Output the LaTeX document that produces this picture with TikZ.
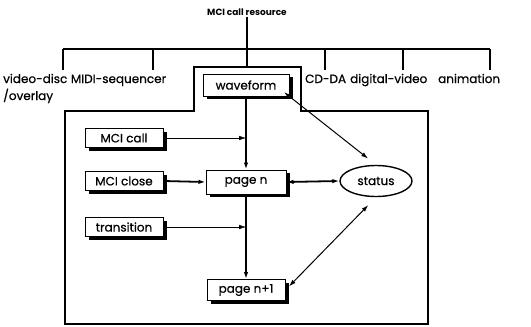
\documentclass[tikz,border=0pt]{standalone}
\usepackage{fontspec}
\setmainfont{Poppins}
\newfontfamily\lblfont{Poppins}[FakeBold=0.6]
\usetikzlibrary{arrows.meta,shadows,shapes.geometric}

\begin{document}
\begin{tikzpicture}[x=1pt,y=-1pt,
  lbl/.style={font=\lblfont\fontsize{12}{14}\selectfont, inner sep=0pt},
  box/.style={draw, line width=1pt, fill=white, minimum width=78pt, minimum height=19pt,
    inner sep=0pt, font=\lblfont\fontsize{12}{14}\selectfont,
    drop shadow={shadow xshift=3.5pt, shadow yshift=-3pt, fill=black, opacity=1}},
  bigbox/.style={box, minimum width=80pt, minimum height=24pt},
  oval/.style={ellipse, draw, line width=1.4pt, minimum width=72pt, minimum height=31pt,
    inner sep=0pt, font=\lblfont\fontsize{12}{14}\selectfont},
  tip/.style={-{Latex[length=7pt,width=4.5pt]}},
  twotip/.style={{Latex[length=7pt,width=4.5pt]}-{Latex[length=7pt,width=4.5pt]}},
  bus/.style={line width=1.4pt},
  frame/.style={line width=1.2pt},
  flow/.style={line width=1.8pt}]
\useasboundingbox (0,0) rectangle (531,327);

% heading and the bus that fans out to the device types
\node[font=\bfseries\fontsize{9}{11}\selectfont, inner sep=1pt] (title) at (247,12) {MCI call resource};
\coordinate (busL) at (63,49);
\coordinate (busR) at (490,49);
\coordinate (ftop) at (247,67);
\draw[bus] (title.south -| ftop) -- (ftop);
\draw[bus] (busL) -- (busR);
\foreach \x in {63,153,325,403,490} \draw[bus] (\x,49) -- (\x,70);

% device types
\node[lbl, anchor=base west] (vd) at (3,83) {video-disc};
\node[lbl, anchor=base west] (midi) at (vd.base east) {\ MIDI-sequencer};
\node[lbl, anchor=base west] (ovl) at (3,100) {/overlay};
\node[lbl, anchor=base west] (cdda) at (305,83) {CD-DA};
\node[lbl, anchor=base west] (dv) at (350,83) {digital-video};
\node[lbl, anchor=base west] (anim) at (438,83) {animation};

% enclosing outline of the waveform player
\draw[frame] (194,67) -- (301,67) -- (301,111) -- (428,111) -- (428,324)
  -- (65,324) -- (65,111) -- (194,111) -- cycle;

% boxes
\node[box, minimum width=86pt, minimum height=22pt] (wave) at (246,85) {waveform};
\node[box] (call) at (124,138) {MCI call};
\node[box] (close) at (124,181) {MCI close};
\node[box] (trans) at (124,227) {transition};
\node[bigbox] (pn) at (246,182) {page n};
\node[box, minimum height=21pt] (pn1) at (246,290) {page n+1};
\node[oval] (status) at (376,181) {status};

% connections
\draw[flow,tip] (wave.south -| pn) -- (pn.north);
\draw[flow,tip] (pn.south) -- (pn.south |- pn1.north);
\draw[tip] (call.east) -- (call -| pn);
\draw[tip] (trans.east) -- (trans -| pn);
\draw[flow,tip] (close.east) -- (pn.west);
\draw[flow,twotip] (pn.east) -- (status.west);
\draw[twotip, line width=1pt, shorten <=-7pt, shorten >=10pt] (wave.south east) -- (status.north);
\draw[twotip, line width=1pt, shorten <=5pt, shorten >=11pt] (pn1.east) -- (status.south);
\end{tikzpicture}
\end{document}
